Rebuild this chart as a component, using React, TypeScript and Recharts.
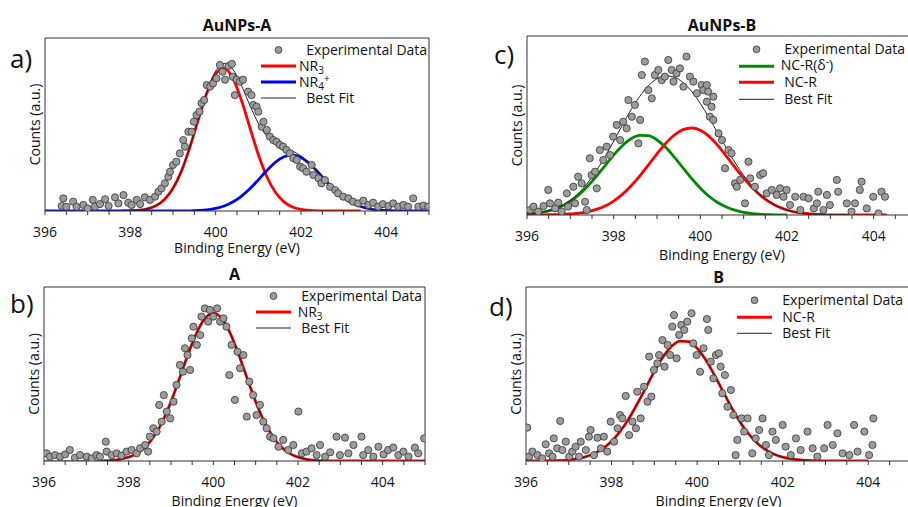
import type { ReactNode } from 'react'
import { ComposedChart, Scatter, Line, XAxis, YAxis, Legend } from 'recharts'

type Pt = [number, number]

const FONT = '"Open Sans", "DejaVu Sans", sans-serif'
const RED = '#ff0000'
const BLUE = '#0000ff'
const GREEN = '#008a00'
const FIT = '#222222'
const DOT_FILL = '#9c9c9c'
const DOT_STROKE = '#333333'

// x axis: minor ticks every 0.5 eV, labels every 2 eV
const X_TICKS = [396, 396.5, 397, 397.5, 398, 398.5, 399, 399.5, 400, 400.5, 401, 401.5, 402, 402.5, 403, 403.5, 404, 404.5, 405]
const X_TICK_LABELS = [396, 398, 400, 402, 404]

// ---- a) AuNPs-A ----
const expA: Pt[] = [
  [396.39, 2.9], [396.43, 7.3], [396.5, 2.5], [396.66, 5.4], [396.74, 2.5], [396.9, 3.5], [397.0, 1.5], [397.12, 6.4],
  [397.17, 2.5], [397.29, 4.0], [397.41, 6.8], [397.49, 2.9], [397.64, 7.9], [397.72, 4.4], [397.84, 9.2], [397.95, 4.8],
  [398.03, 3.5], [398.15, 6.4], [398.23, 4.0], [398.34, 7.9], [398.46, 6.4], [398.58, 8.3], [398.66, 11.2], [398.73, 13.1],
  [398.81, 16.0], [398.89, 19.8], [398.93, 22.7], [399.0, 26.6], [399.08, 28.5], [399.16, 33.3], [399.24, 41.0], [399.28, 37.2],
  [399.36, 45.8], [399.44, 45.8], [399.49, 51.6], [399.55, 55.5], [399.62, 57.4], [399.67, 62.3], [399.73, 64.2], [399.79, 72.8],
  [399.87, 71.9], [399.94, 73.8], [400.02, 76.7], [400.1, 84.4], [400.16, 80.5], [400.22, 75.9], [400.3, 83.8], [400.38, 85.0],
  [400.4, 77.6], [400.45, 67.0], [400.49, 75.9], [400.57, 74.7], [400.64, 75.9], [400.76, 69.0], [400.84, 67.0], [400.88, 61.3],
  [400.96, 60.3], [401.0, 57.4], [401.08, 48.7], [401.12, 51.6], [401.2, 46.8], [401.27, 43.0], [401.35, 41.0], [401.43, 40.0],
  [401.5, 38.2], [401.58, 37.2], [401.66, 35.3], [401.74, 33.3], [401.82, 30.5], [401.9, 29.5], [401.98, 25.6], [402.05, 24.7],
  [402.13, 22.7], [402.25, 26.6], [402.29, 20.8], [402.41, 18.9], [402.48, 16.0], [402.56, 17.9], [402.68, 14.0], [402.8, 12.1],
  [402.87, 10.2], [402.99, 8.3], [403.11, 7.3], [403.22, 5.4], [403.34, 4.4], [403.46, 6.0], [403.58, 3.5], [403.69, 4.8],
  [403.81, 2.5], [403.92, 4.0], [404.05, 2.9], [404.16, 4.4], [404.28, 2.5], [404.4, 3.5], [404.51, 2.5], [404.63, 7.3],
  [404.75, 2.5], [404.87, 3.1], [404.98, 2.5],
]
const nr3A: Pt[] = [
  [397.8, 0], [398.0, 0.2], [398.2, 0.5], [398.4, 1.3], [398.6, 3.0], [398.8, 6.6], [399.0, 13.1], [399.2, 23.2], [399.4, 37.2],
  [399.6, 53.3], [399.8, 68.6], [400.0, 79.4], [400.2, 82.4], [400.4, 76.8], [400.6, 64.3], [400.8, 48.4], [401.0, 32.7],
  [401.2, 19.8], [401.4, 10.8], [401.6, 5.3], [401.8, 2.3], [402.0, 0.9], [402.2, 0.3], [402.4, 0.1], [402.8, 0], [403.4, 0],
]
const nr4A: Pt[] = [
  [396.0, 0], [399.0, 0], [399.4, 0.1], [399.6, 0.3], [399.8, 0.7], [400.0, 1.5], [400.2, 2.9], [400.4, 5.2], [400.6, 8.5],
  [400.8, 12.8], [401.0, 18.0], [401.2, 23.4], [401.4, 28.2], [401.6, 31.4], [401.8, 32.4], [402.0, 30.9], [402.2, 27.3],
  [402.4, 22.4], [402.6, 16.9], [402.8, 11.9], [403.0, 7.7], [403.2, 4.6], [403.4, 2.6], [403.6, 1.3], [403.8, 0.6],
  [404.0, 0.3], [404.2, 0.1], [404.6, 0], [405.0, 0],
]
const fitA: Pt[] = [
  [398.0, 0.2], [398.2, 0.5], [398.4, 1.3], [398.6, 3.0], [398.8, 6.6], [399.0, 13.1], [399.2, 23.2], [399.4, 37.3],
  [399.6, 53.6], [399.8, 69.3], [400.0, 80.9], [400.2, 85.3], [400.4, 82.0], [400.6, 72.8], [400.8, 61.2], [401.0, 50.7],
  [401.2, 43.2], [401.4, 39.0], [401.6, 36.7], [401.8, 34.7], [402.0, 31.8], [402.2, 27.6], [402.4, 22.5], [402.6, 16.9],
  [402.8, 11.9], [403.0, 7.7], [403.2, 4.6], [403.4, 2.6], [403.6, 1.3], [403.8, 0.6], [404.0, 0.3],
]

// ---- b) A ----
const expB: Pt[] = [
  [396.06, 4.4], [396.14, 2.5], [396.26, 3.4], [396.38, 2.5], [396.5, 3.8], [396.61, 6.3], [396.73, 1.9], [396.85, 3.4],
  [397.01, 2.5], [397.13, 1.5], [397.24, 3.4], [397.32, 2.5], [397.46, 11.1], [397.48, 5.4], [397.6, 3.4], [397.72, 4.4],
  [397.83, 3.1], [397.95, 5.4], [398.07, 6.3], [398.19, 4.4], [398.27, 7.3], [398.39, 9.2], [398.46, 5.4], [398.5, 14.0],
  [398.58, 18.8], [398.66, 16.9], [398.72, 32.2], [398.78, 22.6], [398.83, 37.9], [398.9, 28.4], [398.98, 24.5], [399.06, 34.1],
  [399.13, 43.7], [399.21, 55.2], [399.28, 51.3], [399.33, 64.8], [399.39, 60.9], [399.45, 52.3], [399.49, 70.5], [399.53, 77.2],
  [399.61, 66.7], [399.69, 72.4], [399.72, 83.0], [399.8, 87.7], [399.88, 80.1], [399.92, 86.8], [400.0, 83.0], [400.09, 87.7],
  [400.16, 80.1], [400.24, 82.0], [400.31, 77.2], [400.38, 49.4], [400.43, 66.7], [400.51, 35.1], [400.57, 62.8], [400.63, 53.3],
  [400.71, 60.9], [400.79, 25.5], [400.85, 45.6], [400.94, 37.9], [401.02, 26.4], [401.1, 32.2], [401.18, 22.6], [401.26, 18.8],
  [401.34, 14.0], [401.42, 13.0], [401.54, 8.2], [401.65, 12.1], [401.77, 6.3], [401.89, 9.2], [402.01, 28.4], [402.09, 4.4],
  [402.2, 5.4], [402.32, 7.3], [402.44, 3.4], [402.52, 9.2], [402.64, 2.5], [402.76, 5.0], [402.91, 14.0], [402.99, 3.4],
  [403.11, 13.4], [403.19, 4.4], [403.31, 9.2], [403.5, 14.0], [403.54, 3.4], [403.66, 6.3], [403.78, 2.5], [403.9, 8.2],
  [404.02, 3.8], [404.13, 6.3], [404.25, 7.7], [404.37, 3.4], [404.49, 5.4], [404.61, 2.5], [404.76, 7.7], [404.84, 4.4],
  [404.98, 13.0],
]
const nr3B: Pt[] = [
  [397.4, 0.2], [397.6, 0.4], [397.8, 1.0], [398.0, 2.2], [398.2, 4.4], [398.4, 8.2], [398.6, 14.2], [398.8, 22.8], [399.0, 34.1],
  [399.2, 47.4], [399.4, 61.2], [399.6, 73.4], [399.8, 81.9], [400.0, 85.0], [400.2, 81.9], [400.4, 73.4], [400.6, 61.2],
  [400.8, 47.4], [401.0, 34.1], [401.2, 22.8], [401.4, 14.2], [401.6, 8.2], [401.8, 4.4], [402.0, 2.2], [402.2, 1.0],
  [402.4, 0.4], [402.6, 0.2], [403.0, 0], [405.0, 0],
]
const fitB: Pt[] = [
  [396.0, 0], [397.0, 0], [397.4, 0.2], [397.6, 0.4], [397.8, 1.0], [398.0, 2.2], [398.2, 4.4], [398.4, 8.2], [398.6, 14.2],
  [398.8, 22.8], [399.0, 34.1], [399.2, 47.4], [399.4, 61.2], [399.6, 73.4], [399.8, 81.9], [400.0, 85.0], [400.2, 81.9],
  [400.4, 73.4], [400.6, 61.2], [400.8, 47.4], [401.0, 34.1], [401.2, 22.8], [401.4, 14.2], [401.6, 8.2], [401.8, 4.4],
  [402.0, 2.2], [402.2, 1.0], [402.4, 0.4], [402.6, 0.2],
]

// ---- c) AuNPs-B ----
const expC: Pt[] = [
  [396.07, 2.8], [396.15, 4.7], [396.26, 1.9], [396.38, 5.0], [396.49, 14.0], [396.53, 6.5], [396.65, 3.7], [396.72, 6.9],
  [396.8, 1.9], [396.92, 12.1], [396.95, 4.7], [397.07, 15.8], [397.11, 6.5], [397.18, 21.4], [397.26, 17.7], [397.34, 7.4],
  [397.38, 2.8], [397.45, 31.7], [397.49, 22.3], [397.57, 24.2], [397.61, 14.9], [397.68, 36.3], [397.76, 30.7], [397.84, 38.2],
  [397.92, 33.5], [397.99, 43.8], [398.07, 50.3], [398.15, 41.9], [398.22, 52.1], [398.3, 48.4], [398.34, 64.2], [398.42, 54.9],
  [398.49, 61.5], [398.57, 40.0], [398.61, 53.1], [398.65, 78.2], [398.72, 85.7], [398.8, 69.8], [398.88, 65.2], [398.95, 78.2],
  [399.03, 81.0], [399.11, 75.4], [399.18, 77.3], [399.26, 86.6], [399.34, 81.0], [399.38, 74.5], [399.45, 79.1], [399.53, 81.9],
  [399.61, 71.7], [399.68, 88.5], [399.76, 77.3], [399.84, 74.5], [399.92, 68.0], [400.03, 72.6], [400.07, 69.8], [400.15, 63.3],
  [400.15, 72.6], [400.18, 68.9], [400.22, 54.9], [400.26, 60.5], [400.3, 53.1], [400.3, 66.1], [400.42, 45.6], [400.5, 41.9],
  [400.57, 26.1], [400.65, 36.3], [400.72, 34.5], [400.8, 17.7], [400.84, 15.8], [400.92, 19.6], [401.03, 6.5], [401.11, 29.8],
  [401.15, 20.5], [401.26, 15.8], [401.38, 22.3], [401.45, 23.3], [401.53, 12.1], [401.65, 14.0], [401.76, 11.2], [401.84, 14.9],
  [401.92, 10.2], [401.99, 14.0], [402.07, 5.6], [402.19, 10.2], [402.31, 2.8], [402.38, 10.2], [402.5, 9.3], [402.62, 3.7],
  [402.69, 6.5], [402.72, 13.0], [402.84, 2.8], [402.92, 11.2], [402.99, 5.6], [403.15, 19.6], [403.18, 13.0], [403.38, 6.5],
  [403.49, 1.9], [403.57, 6.5], [403.68, 14.0], [403.72, 18.6], [403.84, 3.7], [403.99, 10.2], [404.11, 0.9], [404.18, 13.0],
  [404.26, 10.2],
]
const ncrDeltaC: Pt[] = [
  [396.0, 0.5], [396.2, 1.0], [396.4, 1.7], [396.6, 3.0], [396.8, 4.9], [397.0, 7.7], [397.2, 11.4], [397.4, 16.1], [397.6, 21.6],
  [397.8, 27.5], [398.0, 33.5], [398.2, 38.7], [398.4, 42.6], [398.6, 44.5], [398.8, 44.3], [399.0, 41.9], [399.2, 37.8],
  [399.4, 32.3], [399.6, 26.3], [399.8, 20.4], [400.0, 15.0], [400.2, 10.5], [400.4, 7.0], [400.6, 4.5], [400.8, 2.7],
  [401.0, 1.5], [401.2, 0.8], [401.4, 0.4], [401.6, 0.2], [402.0, 0],
]
const ncrC: Pt[] = [
  [396.0, 0], [396.4, 0.1], [396.8, 0.3], [397.0, 0.6], [397.2, 1.0], [397.4, 1.8], [397.6, 3.1], [397.8, 5.0], [398.0, 7.8],
  [398.2, 11.5], [398.4, 16.2], [398.6, 21.7], [398.8, 27.9], [399.0, 34.2], [399.2, 40.0], [399.4, 44.7], [399.6, 47.7],
  [399.8, 48.6], [400.0, 47.3], [400.2, 43.9], [400.4, 38.9], [400.6, 32.9], [400.8, 26.6], [401.0, 20.6], [401.2, 15.2],
  [401.4, 10.7], [401.6, 7.2], [401.8, 4.6], [402.0, 2.8], [402.2, 1.6], [402.4, 0.9], [402.6, 0.5], [402.8, 0.3],
  [403.0, 0.1], [403.4, 0], [404.3, 0],
]
const fitC: Pt[] = [
  [396.0, 0.5], [396.2, 1.0], [396.4, 1.8], [396.6, 3.2], [396.8, 5.2], [397.0, 8.3], [397.2, 12.4], [397.4, 17.9], [397.6, 24.7],
  [397.8, 32.5], [398.0, 41.3], [398.2, 50.2], [398.4, 58.8], [398.6, 66.2], [398.8, 72.2], [399.0, 76.1], [399.2, 77.8],
  [399.4, 77.0], [399.6, 74.0], [399.8, 69.0], [400.0, 62.3], [400.2, 54.4], [400.4, 45.9], [400.6, 37.4], [400.8, 29.3],
  [401.0, 22.1], [401.2, 16.0], [401.4, 11.1], [401.6, 7.4], [401.8, 4.7], [402.0, 2.8], [402.2, 1.6], [402.4, 0.9],
  [402.6, 0.5], [402.8, 0.3], [403.0, 0.1], [403.4, 0],
]

// ---- d) B ----
const expD: Pt[] = [
  [396.03, 19.2], [396.07, 2.5], [396.15, 5.4], [396.27, 3.4], [396.38, 1.5], [396.46, 9.6], [396.54, 4.4], [396.62, 2.5],
  [396.65, 13.0], [396.73, 7.3], [396.8, 23.0], [396.85, 6.3], [396.93, 11.1], [397.01, 2.5], [397.08, 5.4], [397.16, 8.2],
  [397.24, 2.5], [397.28, 11.1], [397.4, 6.3], [397.47, 14.0], [397.51, 17.8], [397.59, 3.4], [397.67, 13.4], [397.75, 7.3],
  [397.82, 14.0], [397.9, 5.4], [397.98, 22.6], [398.06, 11.1], [398.14, 18.8], [398.2, 26.4], [398.25, 24.5], [398.33, 37.4],
  [398.41, 14.9], [398.49, 22.6], [398.57, 18.8], [398.6, 39.8], [398.68, 24.5], [398.76, 42.7], [398.84, 34.1], [398.88, 60.0],
  [398.93, 37.0], [398.99, 52.3], [399.07, 56.1], [399.11, 60.9], [399.19, 69.5], [399.24, 54.2], [399.31, 66.7], [399.37, 60.9],
  [399.42, 77.2], [399.46, 83.9], [399.52, 59.0], [399.58, 72.4], [399.63, 78.2], [399.7, 75.3], [399.77, 80.1], [399.87, 84.9],
  [399.91, 67.6], [399.99, 60.9], [400.07, 51.3], [400.15, 64.8], [400.23, 81.6], [400.26, 75.3], [400.32, 57.1], [400.38, 47.5],
  [400.44, 60.9], [400.51, 61.9], [400.55, 54.2], [400.59, 38.9], [400.65, 49.4], [400.71, 31.2], [400.79, 40.8], [400.85, 26.4],
  [400.9, 3.4], [400.94, 12.1], [401.04, 24.5], [401.1, 16.9], [401.18, 24.5], [401.29, 4.4], [401.37, 13.0], [401.45, 17.8],
  [401.53, 24.5], [401.61, 9.2], [401.68, 3.4], [401.76, 16.9], [401.84, 12.1], [402.0, 20.7], [402.07, 8.2], [402.19, 3.4],
  [402.31, 13.0], [402.42, 6.3], [402.58, 16.9], [402.7, 7.3], [402.81, 2.5], [402.97, 7.3], [403.05, 20.7], [403.17, 9.2],
  [403.28, 15.9], [403.4, 4.4], [403.56, 3.4], [403.67, 20.7], [403.75, 5.4], [403.91, 16.9], [404.02, 3.4], [404.1, 9.2],
  [404.12, 24.5],
]
const ncrD: Pt[] = [
  [396.0, 0], [396.4, 0.1], [396.6, 0.2], [396.8, 0.3], [397.0, 0.7], [397.2, 1.3], [397.4, 2.5], [397.6, 4.3], [397.8, 7.2],
  [398.0, 11.3], [398.2, 17.0], [398.4, 24.2], [398.6, 32.8], [398.8, 42.1], [399.0, 51.5], [399.2, 59.7], [399.4, 65.8],
  [399.6, 68.9], [399.8, 68.6], [400.0, 64.8], [400.2, 58.2], [400.4, 49.6], [400.6, 40.2], [400.8, 31.0], [401.0, 22.6],
  [401.2, 15.7], [401.4, 10.4], [401.6, 6.5], [401.8, 3.9], [402.0, 2.2], [402.2, 1.2], [402.4, 0.6], [402.6, 0.3],
  [402.8, 0.1], [403.2, 0], [404.0, 0],
]
const fitD: Pt[] = [
  [397.0, 0.7], [397.2, 1.3], [397.4, 2.5], [397.6, 4.3], [397.8, 7.2], [398.0, 11.3], [398.2, 17.0], [398.4, 24.2],
  [398.6, 32.8], [398.8, 42.1], [399.0, 51.5], [399.2, 59.7], [399.4, 65.8], [399.6, 68.9], [399.8, 68.6], [400.0, 64.8],
  [400.2, 58.2], [400.4, 49.6], [400.6, 40.2], [400.8, 31.0], [401.0, 22.6], [401.2, 15.7], [401.4, 10.4], [401.6, 6.5],
  [401.8, 3.9], [402.0, 2.2], [402.2, 1.2], [402.4, 0.6], [402.6, 0.3],
]

interface LegendRow {
  label: ReactNode
  kind: 'dot' | 'line'
  color?: string
  thin?: boolean
}

const sub = (s: string) => <span style={{ fontSize: 10, position: 'relative', top: 3 }}>{s}</span>
const sup = (s: string) => <span style={{ fontSize: 10, position: 'relative', top: -5 }}>{s}</span>

const legendA: LegendRow[] = [
  { label: '  Experimental Data', kind: 'dot' },
  { label: <>NR{sub('3')}</>, kind: 'line', color: RED },
  { label: <>NR{sub('4')}{sup('+')}</>, kind: 'line', color: BLUE },
  { label: '  Best Fit', kind: 'line', color: FIT, thin: true },
]
const legendB: LegendRow[] = [
  { label: '  Experimental Data', kind: 'dot' },
  { label: <> NR{sub('3')}</>, kind: 'line', color: RED },
  { label: '  Best Fit', kind: 'line', color: FIT, thin: true },
]
const legendC: LegendRow[] = [
  { label: '  Experimental Data', kind: 'dot' },
  { label: <> NC-R(δ{sup('-')})</>, kind: 'line', color: GREEN },
  { label: '  NC-R', kind: 'line', color: RED },
  { label: '  Best Fit', kind: 'line', color: FIT, thin: true },
]
const legendD: LegendRow[] = [
  { label: '  Experimental Data', kind: 'dot' },
  { label: '  NC-R', kind: 'line', color: RED },
  { label: '  Best Fit', kind: 'line', color: FIT, thin: true },
]

const toXY = (pts: Pt[]) => pts.map(([x, y]) => ({ x, y }))

const dotShape = (props: any) => (
  <circle cx={props.cx} cy={props.cy} r={3.6} fill={DOT_FILL} stroke={DOT_STROKE} strokeWidth={0.8} />
)

interface PanelProps {
  letter: string
  title: string
  left: number
  top: number
  width: number
  height: number
  margin: { top: number; right: number; bottom: number; left: number }
  titleHeight: number
  labelOffset: number
  exp: Pt[]
  comps: { data: Pt[]; color: string }[]
  fit: Pt[]
  legend: LegendRow[]
  legendLeft: number
  legendTop: number
  rowHeight: number
  letterLeft: number
  letterTop: number
}

function Panel(p: PanelProps) {
  const renderLegend = () => (
    <div style={{ fontFamily: FONT, fontSize: 14, color: '#111' }}>
      {p.legend.map((r, i) => (
        <div key={i} style={{ display: 'flex', alignItems: 'center', height: p.rowHeight, whiteSpace: 'pre' }}>
          <svg width={35} height={p.rowHeight} style={{ display: 'block' }}>
            {r.kind === 'dot' ? (
              <circle cx={17.5} cy={p.rowHeight / 2} r={3.4} fill={DOT_FILL} stroke={DOT_STROKE} strokeWidth={0.8} />
            ) : (
              <line x1={0} x2={35} y1={p.rowHeight / 2} y2={p.rowHeight / 2} stroke={r.color} strokeWidth={r.thin ? 1 : 3} />
            )}
          </svg>
          <span style={{ marginLeft: 3, lineHeight: `${p.rowHeight}px` }}>{r.label}</span>
        </div>
      ))}
    </div>
  )

  return (
    <>
      <div style={{ position: 'absolute', left: p.left, top: p.top }}>
        <ComposedChart width={p.width} height={p.height} margin={p.margin}>
          <XAxis
            type="number"
            dataKey="x"
            domain={[396, 405]}
            ticks={X_TICKS}
            interval={0}
            allowDataOverflow
            tickFormatter={(v: number) => (X_TICK_LABELS.includes(v) ? String(v) : '')}
            tick={{ fill: '#111', fontSize: 14, fontFamily: FONT }}
            tickSize={4}
            tickMargin={12}
            height={44}
            axisLine={{ stroke: '#333' }}
            tickLine={{ stroke: '#333' }}
            label={{ value: 'Binding Energy (eV)', position: 'insideBottom', offset: p.labelOffset, fill: '#111', fontSize: 14, fontFamily: FONT }}
          />
          <XAxis
            xAxisId="top"
            orientation="top"
            type="number"
            dataKey="x"
            domain={[396, 405]}
            allowDataOverflow
            tick={false}
            tickLine={false}
            height={p.titleHeight}
            axisLine={{ stroke: '#333' }}
            label={{ value: p.title, position: 'center', fill: '#111', fontSize: 16, fontWeight: 700, fontFamily: FONT }}
          />
          <YAxis
            type="number"
            domain={[0, 100]}
            allowDataOverflow
            tick={false}
            tickLine={false}
            width={20}
            axisLine={{ stroke: '#333' }}
            label={{ value: 'Counts (a.u.)', angle: -90, position: 'center', fill: '#111', fontSize: 14, fontFamily: FONT }}
          />
          <YAxis yAxisId="right" orientation="right" type="number" domain={[0, 100]} tick={false} tickLine={false} width={1} axisLine={{ stroke: '#333' }} />
          <Legend
            layout="vertical"
            align="center"
            verticalAlign="middle"
            content={renderLegend}
            wrapperStyle={{ left: p.legendLeft, top: p.legendTop, width: 'auto' }}
          />
          <Scatter data={toXY(p.exp)} dataKey="y" shape={dotShape} isAnimationActive={false} />
          {p.comps.map((c, i) => (
            <Line
              key={i}
              data={toXY(c.data)}
              dataKey="y"
              type="monotone"
              stroke={c.color}
              strokeWidth={2.8}
              dot={false}
              activeDot={false}
              isAnimationActive={false}
            />
          ))}
          <Line data={toXY(p.fit)} dataKey="y" type="monotone" stroke={FIT} strokeWidth={1} dot={false} activeDot={false} isAnimationActive={false} />
        </ComposedChart>
      </div>
      <div style={{ position: 'absolute', left: p.letterLeft, top: p.letterTop, fontFamily: FONT, fontSize: 26, lineHeight: '26px', color: '#111' }}>
        {p.letter}
      </div>
    </>
  )
}

export default function App() {
  return (
    <div style={{ position: 'absolute', left: 0, top: 0, width: 908, height: 507, overflow: 'hidden', background: '#fff' }}>
      <Panel
        letter="a)" title="AuNPs-A" left={0} top={0} width={440} height={266}
        margin={{ top: 12, right: 10, bottom: 11, left: 25 }} titleHeight={26} labelOffset={2}
        exp={expA} comps={[{ data: nr3A, color: RED }, { data: nr4A, color: BLUE }]} fit={fitA}
        legend={legendA} legendLeft={261} legendTop={42} rowHeight={16}
        letterLeft={10} letterTop={45}
      />
      <Panel
        letter="b)" title="A" left={0} top={250} width={440} height={257}
        margin={{ top: 11, right: 14, bottom: 2, left: 24 }} titleHeight={26} labelOffset={-1}
        exp={expB} comps={[{ data: nr3B, color: RED }]} fit={fitB}
        legend={legendB} legendLeft={256} legendTop={38} rowHeight={16}
        letterLeft={10} letterTop={290}
      />
      <Panel
        letter="c)" title="AuNPs-B" left={454} top={0} width={470} height={266}
        margin={{ top: 14, right: 6, bottom: 7, left: 53 }} titleHeight={22} labelOffset={-1}
        exp={expC} comps={[{ data: ncrDeltaC, color: GREEN }, { data: ncrC, color: RED }]} fit={fitC}
        legend={legendC} legendLeft={285} legendTop={41} rowHeight={16.6}
        letterLeft={494} letterTop={41}
      />
      <Panel
        letter="d)" title="B" left={454} top={250} width={470} height={257}
        margin={{ top: 17, right: 12, bottom: 2, left: 52 }} titleHeight={20} labelOffset={-1}
        exp={expD} comps={[{ data: ncrD, color: RED }]} fit={fitD}
        legend={legendD} legendLeft={283} legendTop={42} rowHeight={16.5}
        letterLeft={489} letterTop={293}
      />
    </div>
  )
}
